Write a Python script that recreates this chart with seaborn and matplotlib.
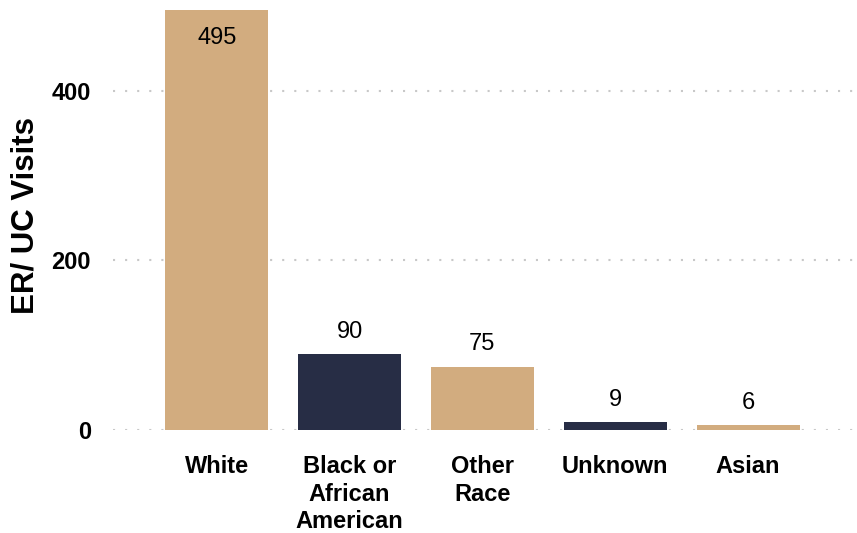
import matplotlib
matplotlib.use("Agg")
import matplotlib.pyplot as plt
import seaborn as sns
import pandas as pd

# data
categories = ["White", "Black or\nAfrican\nAmerican", "Other\nRace", "Unknown", "Asian"]
visits = [495, 90, 75, 9, 6]
bar_colors = ["#D2AC7F", "#272D45", "#D2AC7F", "#272D45", "#D2AC7F"]
y_ticks = [0, 200, 400]

sns.set_theme(style="white")
plt.rcParams["font.family"] = ["Liberation Sans", "DejaVu Sans"]
plt.rcParams["text.color"] = "black"
plt.rcParams["xtick.color"] = "black"
plt.rcParams["ytick.color"] = "black"
plt.rcParams["axes.labelcolor"] = "black"

df = pd.DataFrame({"race": categories, "visits": visits})

fig = plt.figure(figsize=(8.57, 5.33), dpi=100)
ax = fig.add_axes([0.132, 0.193, 0.868, 0.807])

sns.barplot(data=df, x="race", y="visits", hue="race", palette=bar_colors,
            legend=False, width=0.775, saturation=1, linewidth=0, ax=ax, zorder=2)

ax.set_ylim(0, 507)
ax.set_xlim(-0.78, 4.82)
ax.set_yticks(y_ticks)
ax.set_yticklabels([str(t) for t in y_ticks], fontsize=17, fontweight="bold")
ax.set_xticks(range(len(categories)))
ax.set_xticklabels(categories, fontsize=17, fontweight="bold", linespacing=1.25, va="top")
ax.tick_params(axis="y", length=0, pad=16)
ax.tick_params(axis="x", length=0, pad=18)
ax.set_xlabel("")
ax.set_ylabel("ER/ UC Visits", fontsize=22.5, fontweight="bold", labelpad=8)

for yv in y_ticks:
    ax.axhline(yv, color="#C8C8C8", linewidth=1.5, linestyle=(0, (1, 4.8)), zorder=1)

for s in ax.spines.values():
    s.set_visible(False)

# value labels: above the bar, or inside when the bar reaches the top
ymax = ax.get_ylim()[1]
for i, v in enumerate(visits):
    if v > ymax * 0.93:
        ax.annotate(str(v), (i, v), xytext=(0, -12), textcoords="offset points",
                    ha="center", va="top", fontsize=17, color="black")
    else:
        ax.annotate(str(v), (i, v), xytext=(0, 8), textcoords="offset points",
                    ha="center", va="bottom", fontsize=17, color="black")

fig.savefig("out.png", dpi=100)
